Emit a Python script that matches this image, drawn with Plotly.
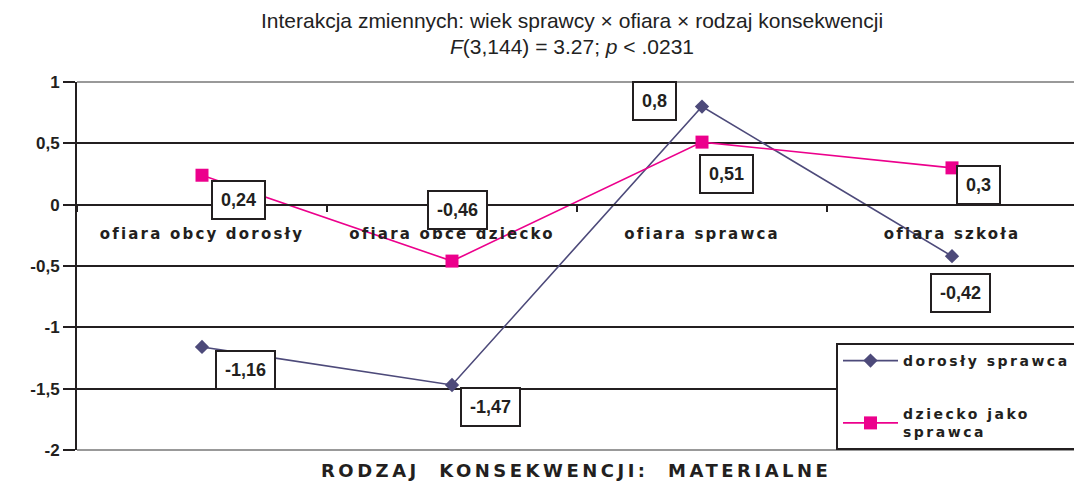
import plotly.graph_objects as go

categories = ["ofiara obcy dorosły", "ofiara obce dziecko", "ofiara sprawca", "ofiara szkoła"]
adult_vals = [-1.16, -1.47, 0.80, -0.42]
child_vals = [0.24, -0.46, 0.51, 0.30]
adult_text = ["-1,16", "-1,47", "0,8", "-0,42"]
child_text = ["0,24", "-0,46", "0,51", "0,3"]
series_names = ["dorosły sprawca", "dziecko jako<br>sprawca"]
y_ticks = [1, 0.5, 0, -0.5, -1, -1.5, -2]
y_ticktext = ["1", "0,5", "0", "-0,5", "-1", "-1,5", "-2"]

BLUE = "#4D4A7A"
PINK = "#EC008C"
INK = "#231F20"
GREY = "#999999"


def spaced(s, px):
    return '<span style="letter-spacing:%spx">%s</span>' % (px, s)


fig = go.Figure()
fig.add_trace(go.Scatter(
    x=categories, y=adult_vals, name="<b>" + spaced(series_names[0], 2.5) + "</b>",
    mode="lines+markers",
    line=dict(color=BLUE, width=1.6),
    marker=dict(symbol="diamond", size=11, color=BLUE),
    legendgroup="a",
))
fig.add_trace(go.Scatter(
    x=categories, y=child_vals,
    name="<b>" + "<br>".join(spaced(p, 2.5) for p in series_names[1].split("<br>")) + "</b>",
    mode="lines+markers",
    line=dict(color=PINK, width=1.6),
    marker=dict(symbol="square", size=13, color=PINK),
    legendgroup="b",
))

# data label boxes (offsets in pixels)
adult_off = [(43, -23), (38, -22), (-48, 6), (8, -37)]
child_off = [(36, -25), (5, 51), (24, -32), (26, -17)]
for cats, vals, texts, offs in [(categories, adult_vals, adult_text, adult_off),
                                (categories, child_vals, child_text, child_off)]:
    for c, v, t, (dx, dy) in zip(cats, vals, texts, offs):
        fig.add_annotation(
            x=c, y=v, text="<b>" + t + "</b>", showarrow=False,
            xshift=dx, yshift=dy,
            font=dict(family="Liberation Sans", size=18, color=INK),
            bgcolor="white", bordercolor=INK, borderwidth=2, borderpad=8,
        )

# titles
fig.add_annotation(
    xref="paper", yref="paper", x=0.495, y=(450 - 20) / 368, showarrow=False,
    text="Interakcja zmiennych: wiek sprawcy × ofiara × rodzaj konsekwencji",
    font=dict(family="Liberation Sans", size=21, color="#222222"), yanchor="middle",
)
fig.add_annotation(
    xref="paper", yref="paper", x=0.495, y=(450 - 46) / 368, showarrow=False,
    text="<i>F</i>(3,144) = 3.27; <i>p</i> &lt; .0231",
    font=dict(family="Liberation Sans", size=21, color="#222222"), yanchor="middle",
)
fig.add_annotation(
    xref="paper", yref="paper", x=0.499, y=-(470 - 450) / 368, showarrow=False,
    text="<b>" + spaced("RODZAJ  KONSEKWENCJI:  MATERIALNE", 3.5) + "</b>",
    font=dict(family="DejaVu Sans", size=18, color=INK), yanchor="middle",
)

# grey border on top / right / bottom
for (x0, y0, x1, y1) in [(0, 1, 1, 1), (1, 0, 1, 1), (0, 0, 1, 0)]:
    fig.add_shape(type="line", xref="paper", yref="paper", x0=x0, y0=y0, x1=x1, y1=y1,
                  line=dict(color=GREY, width=2), layer="above")

fig.update_layout(
    width=1074, height=488,
    margin=dict(l=69, r=5, t=74, b=46),
    paper_bgcolor="white", plot_bgcolor="white",
    showlegend=True,
    legend=dict(
        x=(836 - 77) / 1000, y=(450 - 343) / 368, xanchor="left", yanchor="top",
        bgcolor="white", bordercolor=INK, borderwidth=2,
        font=dict(family="DejaVu Sans", size=14, color=INK),
        tracegroupgap=32, traceorder="grouped", itemwidth=55,
    ),
    xaxis=dict(
        type="category", anchor="free", position=2 / 3,
        showline=True, linecolor=INK, linewidth=2,
        ticks="outside", tickson="boundaries", ticklen=6, tickwidth=2, tickcolor=INK,
        showgrid=False, ticklabelstandoff=15,
        tickvals=categories,
        ticktext=["<b>" + spaced(c, 2.2) + "</b>" for c in categories],
        tickfont=dict(family="DejaVu Sans", size=15, color=INK),
        range=[-0.5, 3.5], fixedrange=True,
    ),
    yaxis=dict(
        range=[-2, 1], tickvals=y_ticks, ticktext=["<b>" + t + "</b>" for t in y_ticktext],
        showline=True, linecolor=INK, linewidth=2,
        ticks="outside", ticklen=12, tickwidth=2, tickcolor=INK,
        showgrid=True, gridcolor=INK, gridwidth=2, zeroline=False,
        tickfont=dict(family="Liberation Sans", size=17, color=INK),
    ),
)

fig.write_html("out.html")
